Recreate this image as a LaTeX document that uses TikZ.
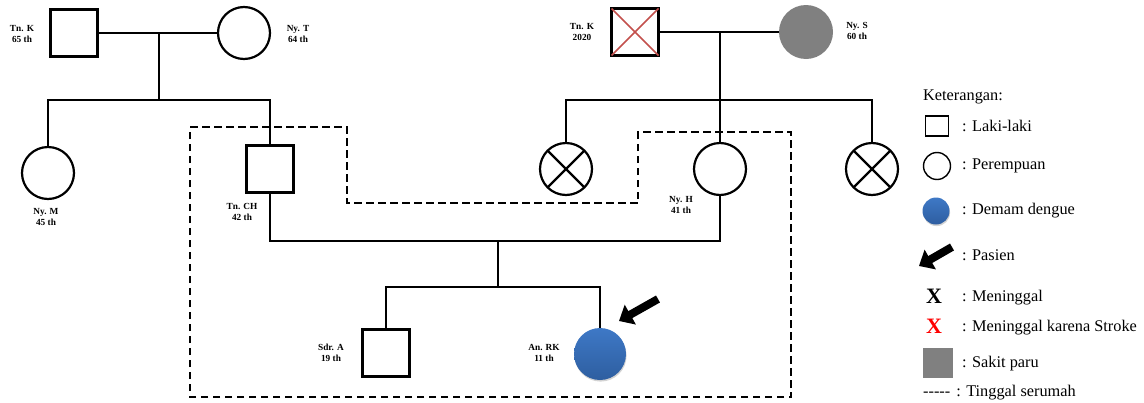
\documentclass[tikz,border=0pt]{standalone}
\usepackage{fontspec}
\setmainfont{Liberation Serif}
\usetikzlibrary{arrows.meta,shadows}
\definecolor{dengue}{RGB}{62,120,198}
\definecolor{dengueb}{RGB}{46,94,160}
\definecolor{paru}{RGB}{128,128,128}
\definecolor{strokex}{RGB}{195,80,77}
\tikzset{
  ln/.style={line width=2.2pt},
  male/.style={draw, line width=2.2pt, rectangle, minimum size=47pt, inner sep=0pt, outer sep=0pt},
  female/.style={draw, line width=2.2pt, circle, minimum size=52pt, inner sep=0pt, outer sep=0pt},
  lungs/.style={circle, fill=paru, minimum size=54pt, inner sep=0pt, outer sep=0pt},
  patient/.style={circle, top color=dengue, bottom color=dengueb, minimum size=52pt, inner sep=0pt, outer sep=0pt,
     drop shadow={shadow xshift=0.6pt, shadow yshift=-1.6pt, opacity=0.35}},
  lbl/.style={font=\bfseries\fontsize{9.3}{10.5}\selectfont, align=center, inner sep=0pt},
  legtxt/.style={font=\fontsize{16.3}{18}\selectfont, anchor=west, inner sep=0pt},
  house/.style={line width=2.1pt, dash pattern=on 7.5pt off 4.5pt},
  ptarrow/.style={line width=8pt, -{Triangle[length=13pt,width=22pt]}},
}
\begin{document}
\begin{tikzpicture}[x=1pt,y=-1pt]
\useasboundingbox (0,0) rectangle (1144,402);
% ---- generation I, left
\node[male] (tnk) at (74,33) {};
\node[female] (nyt) at (244,33) {};
\node[lbl] (tnklbl) at (22,34) {Tn. K\\65 th};
\node[lbl] (nytlbl) at (298,34) {Ny. T\\64 th};
\coordinate (m1) at (159,33);
\coordinate (s1) at (159,100);
\draw[ln] (tnk.east) -- (nyt.west);
\draw[ln] (m1) -- (s1);
% ---- generation I, right
\node[male] (tnk2) at (635,32) {};
\draw[strokex, line width=1.7pt] (tnk2.north west) -- (tnk2.south east) (tnk2.north east) -- (tnk2.south west);
\node[lungs] (nys) at (806,32) {};
\node[lbl] (tnk2lbl) at (582,32) {Tn. K\\2020};
\node[lbl] (nyslbl) at (857,31) {Ny. S\\60 th};
\coordinate (m2) at (720,32);
\coordinate (s2) at (720,100);
\draw[ln] (tnk2.east) -- (nys.west);
\draw[ln] (m2) -- (s2);
% ---- generation II
\node[female] (nym) at (48,173) {};
\node[lbl] (nymlbl) at (46,217) {Ny. M\\45 th};
\node[male] (tnch) at (270,169) {};
\node[lbl] (tnchlbl) at (242,212) {Tn. CH\\42 th};
\draw[ln] (nym.north) |- (s1) -| (tnch.north);
\node[female] (xl) at (566,169) {};
\draw[ln] (xl.north west) -- (xl.south east) (xl.north east) -- (xl.south west);
\node[female] (nyh) at (720,169) {};
\node[lbl] (nyhlbl) at (681,205) {Ny. H\\41 th};
\node[female] (xr) at (872,169) {};
\draw[ln] (xr.north west) -- (xr.south east) (xr.north east) -- (xr.south west);
\draw[ln] (xl.north) |- (s2) -| (xr.north);
\draw[ln] (s2) -- (nyh.north);
\coordinate (c3) at (498,241);
\coordinate (s3) at (498,287);
\draw[ln] (tnch.south) |- (c3) -| (nyh.south);
\draw[ln] (c3) -- (s3);
% ---- generation III
\node[male] (sdra) at (386,353) {};
\node[lbl] (sdralbl) at (331,353) {Sdr. A\\19 th};
\node[patient] (anrk) at (600,354) {};
\node[lbl] (anrklbl) at (544,353) {An. RK\\11 th};
\draw[ln] (sdra.north) |- (s3) -| (anrk.north);
\coordinate (pa) at (658,299);
\coordinate (pb) at (619,321);
\draw[ptarrow] (pa) -- (pb);
% ---- household
\draw[house] (190,127) -- (347,127) -- (347,203) -- (638,203) -- (638,132) -- (791,132) -- (791,397) -- (190,397) -- cycle;
% ---- legend
\node[legtxt] (ket) at (923,97) {Keterangan:};
\node[draw, line width=1.4pt, minimum width=23pt, minimum height=20pt, inner sep=0pt] (lgm) at (937,126) {};
\node[legtxt] (lgmt) at (962,126) {: Laki-laki};
\node[draw, line width=1.4pt, circle, minimum size=27pt, inner sep=0pt] (lgf) at (937,166) {};
\node[legtxt] (lgft) at (962,166) {: Perempuan};
\node[patient, minimum size=27pt] (lgd) at (936,211) {};
\node[legtxt] (lgdt) at (962,211) {: Demam dengue};
\coordinate (la) at (952,247);
\coordinate (lb) at (919,266);
\draw[ptarrow] (la) -- (lb);
\node[legtxt] (lgpt) at (962,255) {: Pasien};
\node[font=\bfseries\fontsize{22}{22}\selectfont, inner sep=0pt] (lgx) at (934,296) {X};
\node[legtxt] (lgxt) at (962,298) {: Meninggal};
\node[font=\bfseries\fontsize{22}{22}\selectfont, text=red, inner sep=0pt] (lgr) at (934,326) {X};
\node[legtxt] (lgrt) at (962,328) {: Meninggal karena Stroke};
\node[fill=paru, minimum width=30pt, minimum height=30pt, inner sep=0pt] (lgs) at (938,363) {};
\node[legtxt] (lgst) at (962,364) {: Sakit paru};
\node[legtxt] (lgh) at (923,393) {-{}-{}-{}-{}-\hspace{6pt}: Tinggal serumah};
\end{tikzpicture}
\end{document}
